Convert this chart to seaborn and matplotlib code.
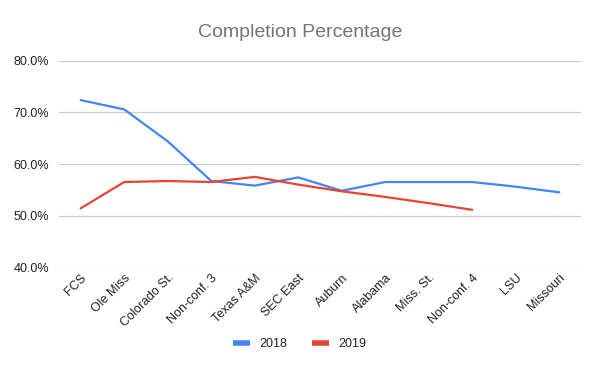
import pandas as pd
import numpy as np
import matplotlib
matplotlib.use("Agg")
import matplotlib.pyplot as plt
from matplotlib.ticker import PercentFormatter
import seaborn as sns

sns.set_style("white")
plt.rcParams['font.family'] = ['Liberation Sans', 'DejaVu Sans']

# Dados
oponentes = ["FCS", "Ole Miss", "Colorado St.", "Non-conf. 3", "Texas A&M", "SEC East",
             "Auburn", "Alabama", "Miss. St.", "Non-conf. 4", "LSU", "Missouri"]
pct_2018 = [72.4, 70.6, 64.4, 56.7, 55.8, 57.4, 54.8, 56.5, 56.5, 56.5, 55.6, 54.5]
pct_2019 = [51.4, 56.5, 56.7, 56.5, 57.5, 56.0, 54.7, 53.6, 52.4, 51.1, np.nan, np.nan]

df = pd.DataFrame({"oponente": oponentes, "2018": pct_2018, "2019": pct_2019})
longo = df.melt(id_vars="oponente", var_name="ano", value_name="pct")

fig = plt.figure(figsize=(6, 3.71), dpi=100)
ax = fig.add_axes([0.0983, 0.2803, 0.87, 0.5553])

sns.lineplot(data=longo, x="oponente", y="pct", hue="ano", sort=False,
             palette={"2018": "#4285F4", "2019": "#EA4335"}, linewidth=1.6, ax=ax)

ax.set_xlim(-0.5, len(oponentes) - 0.5)
ax.set_ylim(40, 80)
ax.set_yticks([40, 50, 60, 70, 80])
ax.yaxis.set_major_formatter(PercentFormatter(decimals=1))
ax.grid(axis="y", color="#cccccc", linewidth=0.9)
ax.set_axisbelow(True)
for s in ax.spines.values():
    s.set_visible(False)
ax.tick_params(axis="both", length=0, labelsize=9, colors="#222222")
ax.tick_params(axis="y", pad=7)
plt.setp(ax.get_xticklabels(), rotation=45, ha="right", rotation_mode="anchor")
ax.set_xlabel("")
ax.set_ylabel("")

fig.suptitle("Completion Percentage", x=0.5, y=0.935, fontsize=14, color="#757575")

ax.legend(loc="center", bbox_to_anchor=(0.5, 1 - 344 / 371), bbox_transform=fig.transFigure,
          ncol=2, frameon=False, fontsize=9, handlelength=1.3, handletextpad=0.8,
          columnspacing=2.0, labelcolor="#222222")
for ln in ax.get_legend().get_lines():
    ln.set_linewidth(4)
    ln.set_solid_capstyle("butt")

fig.savefig("out.png", dpi=100)
